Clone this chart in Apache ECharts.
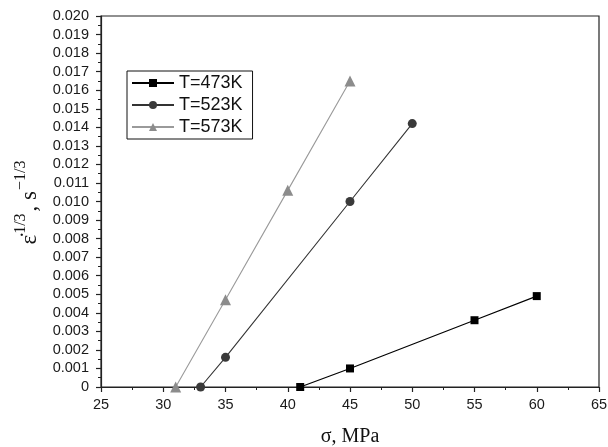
<!DOCTYPE html>
<html>
<head>
<meta charset="utf-8">
<script src="https://cdn.jsdelivr.net/npm/echarts@6/dist/echarts.min.js"></script>
<style>html,body{margin:0;padding:0;background:#fff}#c{width:608px;height:447px}</style>
</head>
<body>
<div id="c"></div>
<script>
const seriesNames = ['T=473K', 'T=523K', 'T=573K'];
const stress473 = [41, 45, 55, 60];
const rate473 = [0.0000, 0.0010, 0.0036, 0.0049];
const stress523 = [33, 35, 45, 50];
const rate523 = [0.0000, 0.0016, 0.0100, 0.0142];
const stress573 = [31, 35, 40, 45];
const rate573 = [0.0000, 0.0047, 0.0106, 0.0165];
const xTicks = [25, 30, 35, 40, 45, 50, 55, 60, 65];
const yTicks = ['0', '0.001', '0.002', '0.003', '0.004', '0.005', '0.006', '0.007', '0.008', '0.009', '0.010', '0.011', '0.012', '0.013', '0.014', '0.015', '0.016', '0.017', '0.018', '0.019', '0.020'];

const pairs = (xs, ys) => xs.map((x, i) => [x, ys[i]]);

const chart = echarts.init(document.getElementById('c'), null, {renderer: 'canvas'});
const axisText = {color: '#1a1a1a', fontFamily: 'Liberation Sans, Arial, sans-serif', fontSize: 14.5};
const serif = 'Liberation Serif, Times New Roman, serif';

chart.setOption({
  backgroundColor: '#fff',
  animation: false,
  grid: {left: 101, right: 9, top: 16, bottom: 60, show: true, borderColor: '#222', borderWidth: 1.2, containLabel: false, outerBoundsMode: 'none'},
  legend: {
    orient: 'vertical', left: 127, top: 71,
    borderColor: '#111', borderWidth: 1, padding: [3, 10, 3, 4],
    itemWidth: 42, itemHeight: 10, itemGap: 4,
    textStyle: {fontFamily: 'Liberation Sans, Arial, sans-serif', fontSize: 18, color: '#111'},
    data: seriesNames
  },
  xAxis: {
    type: 'value', min: xTicks[0], max: xTicks[xTicks.length - 1], interval: 5,
    name: 'σ, MPa', nameLocation: 'middle', nameGap: 40,
    nameTextStyle: {fontFamily: serif, fontSize: 20, color: '#111'},
    axisLine: {lineStyle: {color: '#222', width: 1.2}},
    axisTick: {inside: false, length: 5, lineStyle: {color: '#222', width: 1.2}},
    minorTick: {show: true, splitNumber: 2, length: 3, lineStyle: {color: '#222', width: 1}},
    splitLine: {show: false},
    axisLabel: Object.assign({margin: 10, formatter: v => String(v)}, axisText)
  },
  yAxis: {
    type: 'value', min: 0, max: 0.020, interval: 0.001,
    name: '{m|ε̇}{sup|1/3}{m|, s}{sup|−1/3}', nameLocation: 'middle', nameRotate: 90, nameGap: 60,
    nameTextStyle: {
      fontFamily: serif, fontSize: 22, color: '#111',
      rich: {
        m: {fontFamily: serif, fontSize: 23, color: '#111', lineHeight: 28, verticalAlign: 'bottom'},
        sup: {fontFamily: serif, fontSize: 16, color: '#111', lineHeight: 28, verticalAlign: 'top', padding: [0, 2, 0, 1]}
      }
    },
    axisLine: {lineStyle: {color: '#222', width: 1.2}},
    axisTick: {inside: false, length: 5, lineStyle: {color: '#222', width: 1.2}},
    minorTick: {show: true, splitNumber: 2, length: 3, lineStyle: {color: '#222', width: 1}},
    splitLine: {show: false},
    axisLabel: Object.assign({margin: 12, formatter: (v) => { const i = Math.round(v * 1000); return yTicks[i]; }}, axisText)
  },
  series: [
    {
      name: seriesNames[0], type: 'line', data: pairs(stress473, rate473),
      symbol: 'rect', symbolSize: 8,
      lineStyle: {color: '#000', width: 1.2}, itemStyle: {color: '#000'}
    },
    {
      name: seriesNames[1], type: 'line', data: pairs(stress523, rate523),
      symbol: 'circle', symbolSize: 9,
      lineStyle: {color: '#333', width: 1.1}, itemStyle: {color: '#3a3a3a'}
    },
    {
      name: seriesNames[2], type: 'line', data: pairs(stress573, rate573),
      symbol: 'triangle', symbolSize: 11,
      lineStyle: {color: '#9a9a9a', width: 1.1}, itemStyle: {color: '#8c8c8c'}
    }
  ]
});
</script>
</body>
</html>
